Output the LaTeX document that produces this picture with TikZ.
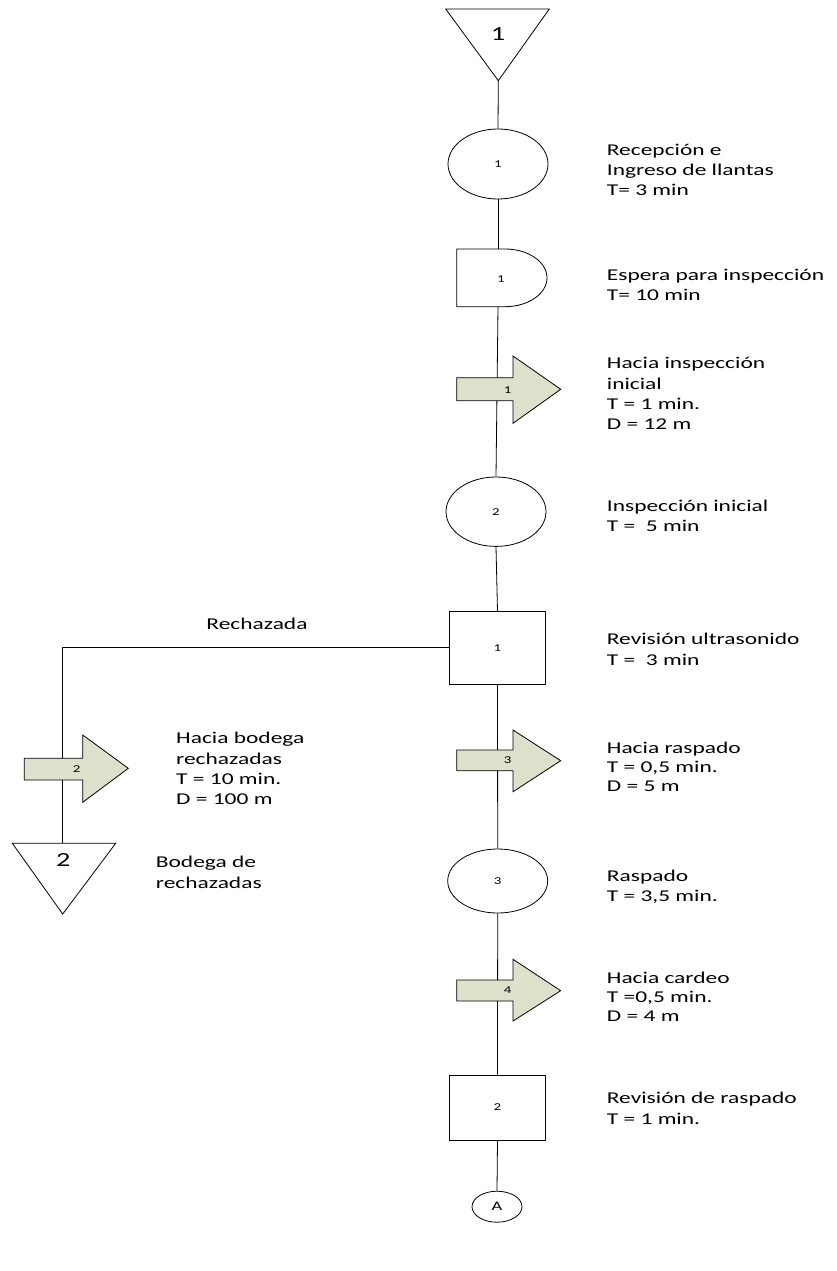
\documentclass[tikz,border=0pt]{standalone}
\usepackage{fontspec}
\setmainfont{Carlito}[FakeStretch=1.42]
\usetikzlibrary{shapes.geometric}
\definecolor{arrowfill}{RGB}{221,225,203}
\tikzset{
  shapeline/.style={draw=black, line width=0.8pt},
  conn/.style={draw=black, line width=0.8pt},
  mvarrow/.style={draw=black, line width=0.8pt, fill=arrowfill},
  lbl/.style={anchor=base west, align=left, inner sep=0pt, font=\fontsize{16.5}{20.3}\selectfont},
  lbltight/.style={lbl, font=\fontsize{16.5}{18.8}\selectfont},
  num/.style={inner sep=0pt, font=\fontsize{10.5}{12}\selectfont},
  bignum/.style={inner sep=0pt, font=\fontsize{20}{24}\selectfont},
  opnode/.style={ellipse, shapeline, fill=white, inner sep=0pt, minimum width=100pt, font=\fontsize{10.5}{12}\selectfont},
  boxnode/.style={rectangle, shapeline, fill=white, inner sep=0pt, minimum width=96.4pt, font=\fontsize{10.5}{12}\selectfont},
}
\begin{document}
\begin{tikzpicture}[x=1pt,y=-1pt]
\useasboundingbox[fill=white] (0,0) rectangle (836,1271);

% ---------- shapes ----------
% storage triangle 1
\coordinate (t1a) at (445.7,9);
\coordinate (t1b) at (549.3,9);
\coordinate (t1c) at (498.3,80.7);
\draw[shapeline] (t1a) -- (t1b) -- (t1c) -- cycle;
\node[bignum] (t1n) at (498,34) {1};

% operation 1
\node[opnode, minimum height=70pt] (op1) at (498,164) {1};

% delay 1
\coordinate (d1top) at (498,249);
\coordinate (d1bot) at (498,306.7);
\draw[shapeline] (456.7,249) -- (505,249) arc[start angle=-90, end angle=90, x radius=42, y radius=28.85] -- (456.7,306.7) -- cycle;
\node[num] (d1n) at (501,279) {1};

% operation 2
\node[opnode, minimum height=69.4pt] (op2) at (496,511.7) {2};

% inspection 1
\node[boxnode, minimum height=72.3pt] (box1) at (497.5,647.85) {1};

% operation 3
\node[opnode, minimum height=64pt] (op3) at (497.7,881) {3};

% inspection 2
\node[boxnode, minimum height=65pt] (box2) at (497.5,1107.5) {2};

% connector A
\node[ellipse, shapeline, fill=white, inner sep=0pt, minimum width=50pt, minimum height=31pt, font=\fontsize{13}{15}\selectfont] (cA) at (497,1206.7) {A};

% storage triangle 2
\coordinate (t2a) at (12.3,843.3);
\coordinate (t2b) at (115.7,843.3);
\coordinate (t2c) at (62.7,914);
\coordinate (t2top) at (62.7,843.3);
\draw[shapeline] (t2a) -- (t2b) -- (t2c) -- cycle;
\node[bignum] (t2n) at (63.3,860) {2};

% ---------- connectors ----------
\draw[conn] (t1c) -- (op1.north);
\draw[conn] (op1.south) -- (d1top);
\draw[conn] (d1bot) -- (op2.north);
\draw[conn] (op2.south) -- (box1.north);
\draw[conn] (box1.west) -- (box1.west -| t2top) -- (t2top);
\draw[conn] (box1.south) -- (op3.north);
\draw[conn] (op3.south) -- (box2.north);
\draw[conn] (box2.south) -- (cA.north);

% ---------- transport arrows ----------
\draw[mvarrow] (456.7,377.7) -- (513,377.7) -- (513,356) -- (560.7,389.3) -- (513,423.3) -- (513,400.7) -- (456.7,400.7) -- cycle;
\node[num] (a1n) at (507.7,390) {1};

\draw[mvarrow] (456.7,750) -- (513,750) -- (513,730) -- (560.7,760.7) -- (513,791.7) -- (513,770.7) -- (456.7,770.7) -- cycle;
\node[num] (a3n) at (507.7,760) {3};

\draw[mvarrow] (456.7,980) -- (513,980) -- (513,959.3) -- (560.7,990.7) -- (513,1021) -- (513,1001) -- (456.7,1001) -- cycle;
\node[num] (a4n) at (507.7,990) {4};

\draw[mvarrow] (24.3,758.3) -- (82.7,758.3) -- (82.7,735) -- (128.3,768.3) -- (82.7,802.3) -- (82.7,780) -- (24.3,780) -- cycle;
\node[num] (a2n) at (76.7,769.3) {2};

% ---------- labels (anchored at the baseline of the last line) ----------
\node[lbl] (l1) at (606.7,195.6) {Recepción e\\Ingreso de llantas\\T= 3 min};
\node[lbl] (l2) at (606.7,300.3) {Espera para inspección\\T= 10 min};
\node[lbl] (l3) at (606.7,429.6) {Hacia inspección\\inicial\\T = 1 min.\\D = 12 m};
\node[lbl] (l4) at (606.7,531.3) {Inspección inicial\\T =~ 5 min};
\node[lbl] (l5) at (606.7,665) {Revisión ultrasonido\\T =~ 3 min};
\node[lbltight] (l6) at (606.7,791.3) {Hacia raspado\\T = 0,5 min.\\D = 5 m};
\node[lbl] (l7) at (606.7,901.6) {Raspado\\T = 3,5 min.};
\node[lbltight] (l8) at (606.7,1021.3) {Hacia cardeo\\T =0,5 min.\\D = 4 m};
\node[lbl] (l9) at (606.7,1124) {Revisión de raspado\\T = 1 min.};

\node[lbl, anchor=base] (rech) at (257,629.7) {Rechazada};
\node[lbl] (l10) at (176,804.6) {Hacia bodega\\rechazadas\\T = 10 min.\\D = 100 m};
\node[lbl] (l11) at (155.7,888) {Bodega de\\rechazadas};
\end{tikzpicture}
\end{document}
